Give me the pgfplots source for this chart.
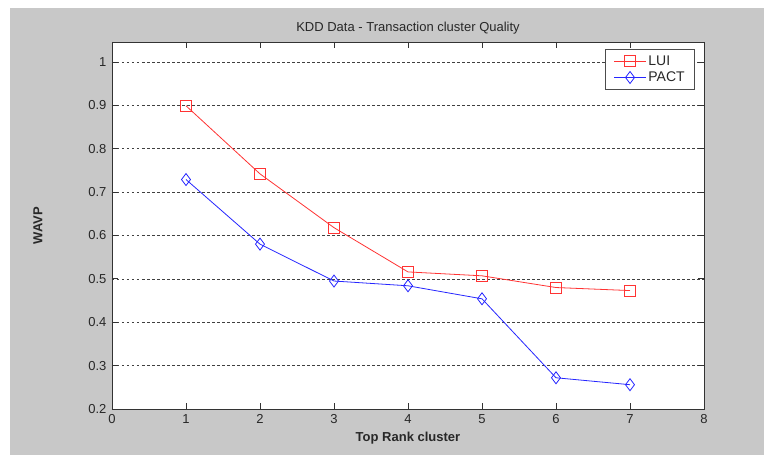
\documentclass[border=0pt]{standalone}
\usepackage{pgfplots}
\pgfplotsset{compat=1.18}
\usepackage{fontspec}
\setmainfont{Liberation Sans}
\definecolor{figgray}{RGB}{200,200,200}
\definecolor{txtgray}{RGB}{40,40,40}
\begin{document}
\begin{tikzpicture}[x=1pt,y=1pt]
\useasboundingbox (0,0) rectangle (764,455);
\fill[white] (0,0) rectangle (764,455);
\fill[figgray] (10,0) rectangle (764,447);
\begin{axis}[
  at={(112pt,46pt)}, anchor=south west,
  scale only axis, width=592pt, height=367pt,
  xmin=0, xmax=8, ymin=0.2, ymax=1.046,
  xtick={0,1,...,8}, ytick={0.2,0.3,...,1.0},
  yticklabels={0.2,0.3,0.4,0.5,0.6,0.7,0.8,0.9,1},
  tick align=inside, tick pos=both,
  major tick length=6pt,
  axis background/.style={fill=white},
  axis line style={black!80, line width=0.8pt},
  major tick style={black!80, line width=0.8pt},
  ymajorgrids, grid style={black!75, dash pattern=on 2.5pt off 2.5pt, line width=0.6pt},
  tick label style={font=\fontsize{13}{15}\selectfont, text=txtgray},
  xticklabel style={yshift=-2pt},
  yticklabel style={xshift=-2pt},
  /pgf/number format/assume math mode=true,
  xlabel={\bfseries Top Rank cluster}, ylabel={\bfseries WAVP},
  label style={font=\fontsize{13}{15}\selectfont\bfseries, text=txtgray},
  xlabel style={at={(axis description cs:0.5,0)}, anchor=center, yshift=-29pt},
  ylabel style={at={(axis description cs:-0.125,0.5)}, anchor=center},
  title={KDD Data - Transaction cluster Quality},
  title style={font=\fontsize{13}{15}\selectfont, text=txtgray, yshift=-2pt},
  legend style={at={(0.985,0.98)}, anchor=north east, draw=black!70, line width=0.8pt,
    font=\fontsize{14}{16}\selectfont, text=txtgray, row sep=1pt, inner xsep=8pt, inner ysep=4pt,
    /tikz/every even column/.append style={column sep=4pt}},
  legend image code/.code={
    \draw[mark repeat=2, mark phase=2, #1] plot coordinates {(0pt,0pt) (16pt,0pt) (32pt,0pt)};},
  legend cell align=left,
]
\addplot[red!80!white, line width=0.8pt, mark=square, mark size=5.5pt, mark options={solid}]
  coordinates {(1,0.899) (2,0.742) (3,0.618) (4,0.516) (5,0.507) (6,0.480) (7,0.473)};
\addlegendentry{LUI}
\addplot[blue!85!white, line width=0.8pt, mark=diamond, mark size=6pt, mark options={solid}]
  coordinates {(1,0.729) (2,0.580) (3,0.495) (4,0.484) (5,0.454) (6,0.272) (7,0.256)};
\addlegendentry{PACT}
\end{axis}
\end{tikzpicture}
\end{document}
